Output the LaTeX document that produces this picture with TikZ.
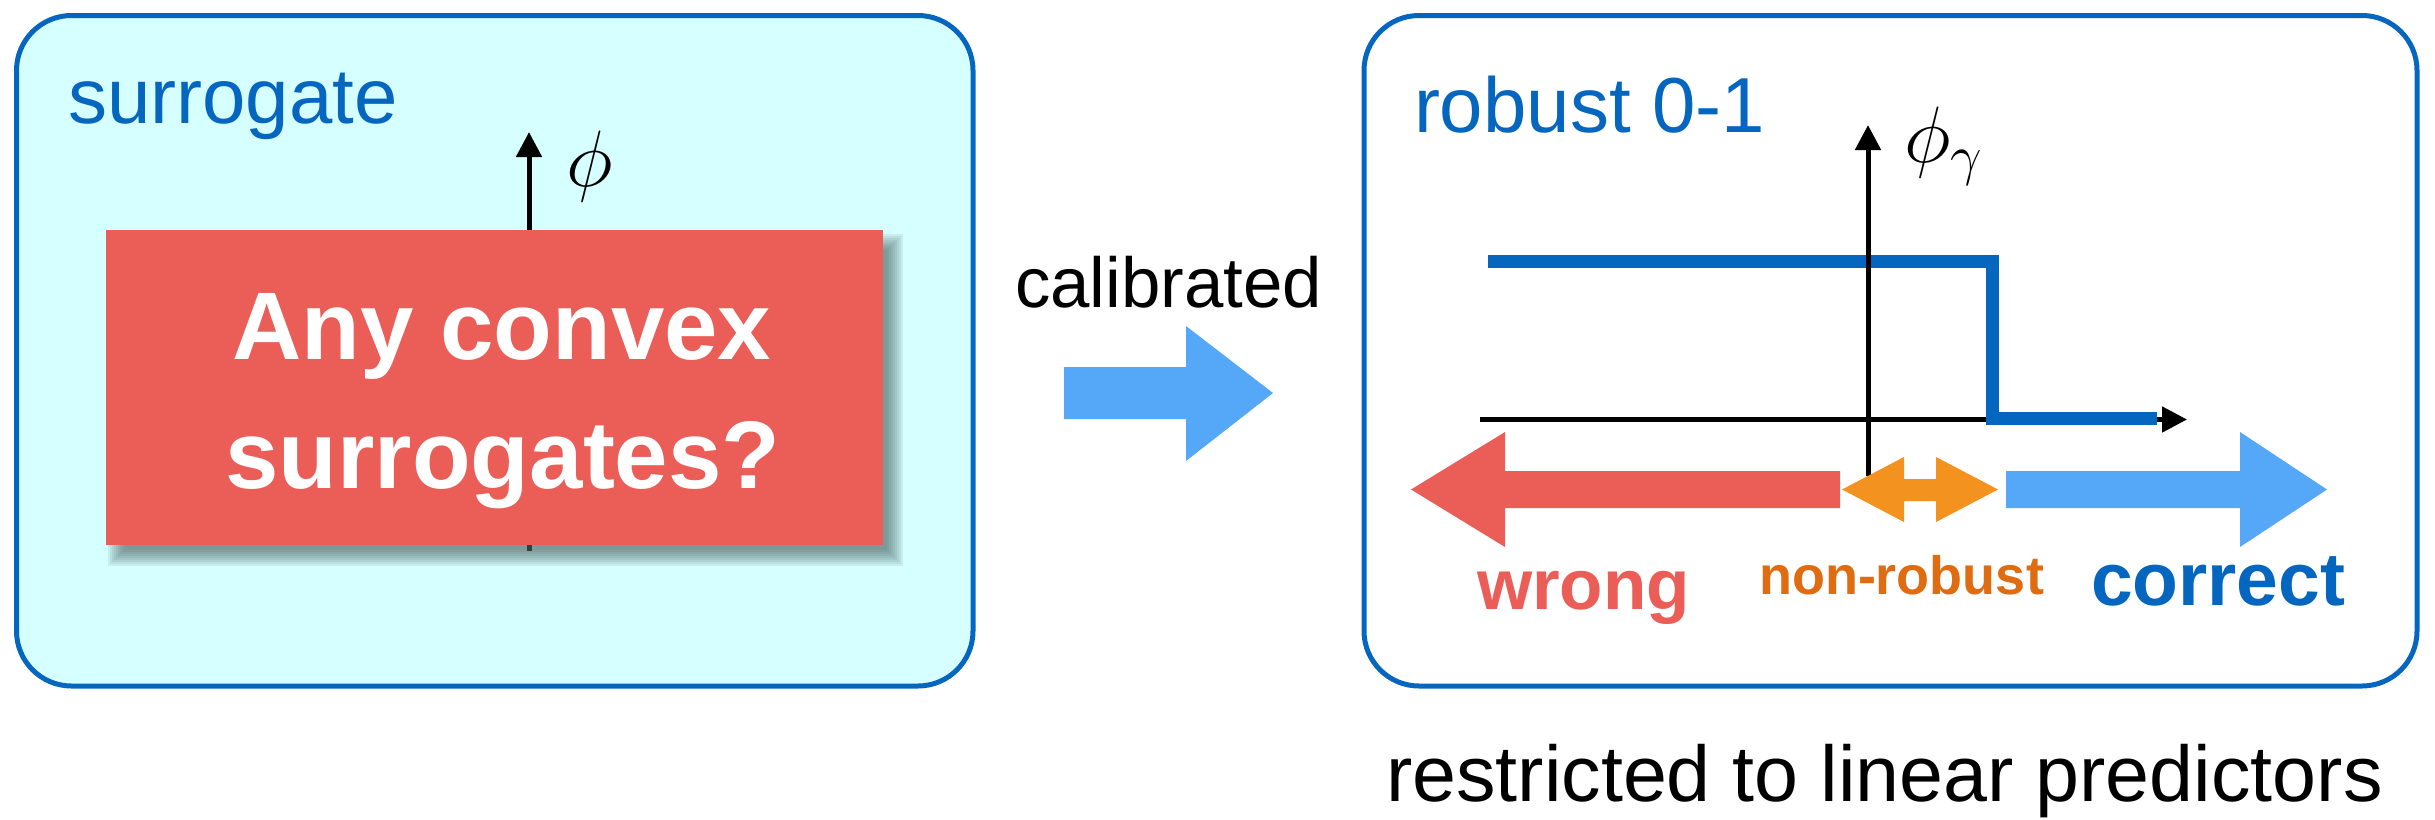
\RequirePackage{fix-cm}
\documentclass[tikz,border=0pt]{standalone}
\usepackage{fontspec}
\setmainfont{Liberation Sans}
\usetikzlibrary{arrows.meta}
\definecolor{boxblue}{RGB}{5,102,192}
\definecolor{boxcyan}{RGB}{214,255,255}
\definecolor{qred}{RGB}{235,94,88}
\definecolor{lightblue}{RGB}{85,168,248}
\definecolor{orangearrow}{RGB}{243,146,30}
\definecolor{orangetext}{RGB}{224,108,18}
\definecolor{shadowc}{RGB}{80,105,105}
\tikzset{
  panel/.style={draw=boxblue, line width=2.5pt, rounded corners=27.5pt, inner sep=0pt, outer sep=0pt},
  lbl/.style={inner sep=0pt, outer sep=0pt, anchor=base west},
  axisline/.style={line width=2.5pt, -{Triangle[length=12.5pt,width=12.5pt]}},
  qtext/.style={inner sep=0pt, anchor=base, text=white, font=\bfseries\fontsize{48}{64.5}\selectfont}
}
\begin{document}
\begin{tikzpicture}[x=0.5pt,y=-0.5pt]
\path[use as bounding box] (0,0) rectangle (2435,819);

% ---------- left panel ----------
\node[panel, fill=boxcyan, minimum width=478.25pt, minimum height=335.25pt] (leftpanel) at (494.75,350.75) {};
\node[lbl, text=boxblue, font=\fontsize{39}{44}\selectfont] (surr) at (68,123) {surrogate};

\coordinate (phibot) at (529,551);
\coordinate (phitop) at (529,132);
\draw[axisline] (phibot) -- (phitop);
\node[lbl, font=\fontsize{40}{44}\selectfont] (philbl) at (566,186) {$\phi$};

% shadow of the red box
\foreach \k in {0,...,8} {
  \fill[shadowc, opacity=0.11] (108+\k*2, 234+\k*2) rectangle (903-\k*2, 566-\k*2);
}
\node[fill=qred, inner sep=0pt, outer sep=0pt, minimum width=388.5pt, minimum height=157.5pt] (qbox) at (494.5,387.5) {};
\node[qtext] (qline1) at (502,359) {Any convex};
\node[qtext] (qline2) at (503,488) {surrogates?};

% ---------- calibrated arrow ----------
\node[lbl, font=\fontsize{35.4}{40}\selectfont] (calib) at (1015,307) {calibrated};
\fill[lightblue] (1064,367) -- (1186,367) -- (1186,326) -- (1273,393) -- (1186,461) -- (1186,419) -- (1064,419) -- cycle;

% ---------- right panel ----------
\node[panel, fill=white, minimum width=526.5pt, minimum height=335.25pt] (rightpanel) at (1890.5,350.75) {};
\node[lbl, text=boxblue, font=\fontsize{39}{44}\selectfont] (robust) at (1414,132) {robust 0-1};

\coordinate (hstart) at (1480,419.5);
\coordinate (hend) at (2187,419.5);
\draw[axisline] (hstart) -- (hend);
\draw[boxblue, line width=6.5pt, miter limit=10] (1488,261.5) -- (1992.5,261.5) -- (1992.5,418) -- (2157,418);
\coordinate (vstart) at (1868,476);
\coordinate (vend) at (1868,125);
\draw[axisline] (vstart) -- (vend);
\node[lbl, font=\fontsize{40}{44}\selectfont] (phig) at (1904,162) {$\phi_\gamma$};

% fat arrows
\fill[qred] (1840,471) -- (1505,471) -- (1505,432) -- (1411,489.5) -- (1505,547) -- (1505,508) -- (1840,508) -- cycle;
\fill[orangearrow] (1842,489.5) -- (1904,457) -- (1904,479) -- (1936,479) -- (1936,457) -- (1998,489.5) -- (1936,522) -- (1936,501) -- (1904,501) -- (1904,522) -- cycle;
\fill[lightblue] (2006,471) -- (2240,471) -- (2240,432) -- (2327,489.5) -- (2240,547) -- (2240,508) -- (2006,508) -- cycle;

\node[lbl, text=qred, font=\bfseries\fontsize{35.5}{40}\selectfont] (wrong) at (1477,609) {wrong};
\node[lbl, text=orangetext, font=\bfseries\fontsize{27}{30}\selectfont] (nonrob) at (1759,594) {non-robust};
\node[lbl, text=boxblue, font=\bfseries\fontsize{37.5}{42}\selectfont] (correct) at (2091,605) {correct};

\node[lbl, font=\fontsize{39.5}{44}\selectfont] (restr) at (1386,801) {restricted to linear predictors};
\end{tikzpicture}
\end{document}
